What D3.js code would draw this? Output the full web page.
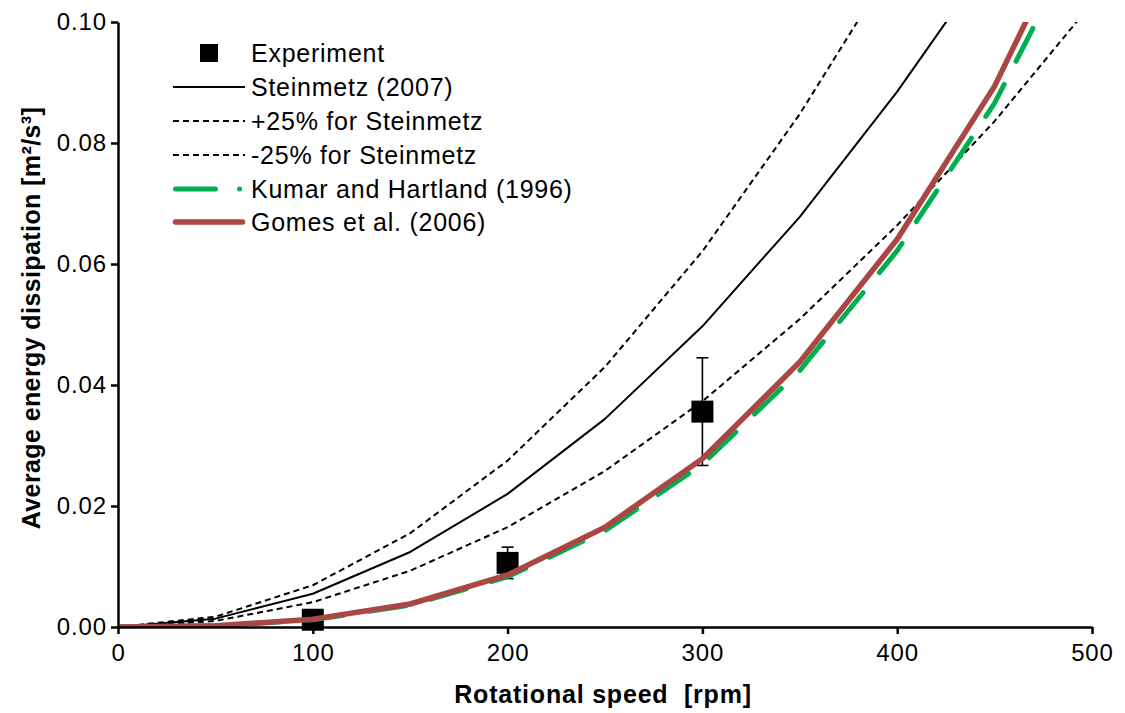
<!DOCTYPE html>
<html>
<head>
<meta charset="utf-8">
<script src="https://cdn.jsdelivr.net/npm/d3@7"></script>
<style>
  html, body { margin: 0; padding: 0; background: #fff; }
  svg { display: block; font-family: "Liberation Sans", Arial, sans-serif; }
</style>
</head>
<body>
<svg id="chart" width="1125" height="713"></svg>
<script>
// Rotational speed grid (rpm) for the correlation curves
const speeds = [0, 50, 100, 150, 200, 250, 300, 350, 400, 450, 500];

// Average energy dissipation [m²/s³] for each correlation
const steinmetz   = [0, 0.00138, 0.0055, 0.0124, 0.0220, 0.0344, 0.0497, 0.0678, 0.0885, 0.1114, 0.1375];
const steinPlus25 = [0, 0.0017, 0.0069, 0.0155, 0.0275, 0.0430, 0.0621, 0.0848, 0.1106, 0.1393, 0.1719];
const steinMinus25= [0, 0.0010, 0.0041, 0.0093, 0.0165, 0.0258, 0.0373, 0.0509, 0.0664, 0.0836, 0.1031];
const kumar       = [0, 0.0002, 0.0012, 0.0036, 0.0083, 0.0159, 0.0269, 0.0424, 0.0622, 0.0866, 0.1180];
const gomes       = [0, 0.0002, 0.0013, 0.0038, 0.0086, 0.0165, 0.0278, 0.0438, 0.0641, 0.0894, 0.1225];

// Measured points with error bars
const expSpeeds = [100, 200, 300];
const expValues = [0.0012, 0.0106, 0.0356];
const expErrors = [0.0004, 0.0026, 0.0089];

// Axis ticks
const xTicks = [0, 100, 200, 300, 400, 500];
const yTicks = [0, 0.02, 0.04, 0.06, 0.08, 0.10];

const legendLabels = [
  "Experiment",
  "Steinmetz (2007)",
  "+25% for Steinmetz",
  "-25% for Steinmetz",
  "Kumar and Hartland (1996)",
  "Gomes et al. (2006)"
];

const svg = d3.select("#chart");
const plot = { left: 118, right: 1092, top: 22, bottom: 627 };

const x = d3.scaleLinear().domain([0, 500]).range([plot.left, plot.right]);
const y = d3.scaleLinear().domain([0, 0.10]).range([plot.bottom, plot.top]);

svg.append("defs").append("clipPath").attr("id", "plotClip")
  .append("rect")
  .attr("x", plot.left).attr("y", plot.top)
  .attr("width", plot.right - plot.left)
  .attr("height", plot.bottom - plot.top);

const line = d3.line().x(d => x(d[0])).y(d => y(d[1]));
const pairs = vals => speeds.map((s, i) => [s, vals[i]]);

const styles = {
  stein:  { stroke: "#000", width: 2, dash: null, cap: "butt" },
  dashed: { stroke: "#000", width: 2, dash: "6,4", cap: "butt" },
  kumar:  { stroke: "#00B050", width: 5, dash: "37,26", cap: "round" },
  gomes:  { stroke: "#AA4643", width: 5.5, dash: null, cap: "round" }
};

const curves = svg.append("g").attr("clip-path", "url(#plotClip)");

function drawCurve(g, vals, st) {
  g.append("path")
    .datum(pairs(vals))
    .attr("d", line)
    .attr("fill", "none")
    .attr("stroke", st.stroke)
    .attr("stroke-width", st.width)
    .attr("stroke-linecap", st.cap)
    .attr("stroke-linejoin", "round")
    .attr("stroke-dasharray", st.dash);
}

drawCurve(curves, steinPlus25, styles.dashed);
drawCurve(curves, steinmetz, styles.stein);
drawCurve(curves, steinMinus25, styles.dashed);

// Experiment: error bars + square markers
const expG = svg.append("g");
expSpeeds.forEach((s, i) => {
  const cx = x(s), v = expValues[i], e = expErrors[i];
  expG.append("line")
    .attr("x1", cx).attr("x2", cx)
    .attr("y1", y(v + e)).attr("y2", y(v - e))
    .attr("stroke", "#000").attr("stroke-width", 1.6);
  [v + e, v - e].forEach(yy => {
    expG.append("line")
      .attr("x1", cx - 6).attr("x2", cx + 6)
      .attr("y1", y(yy)).attr("y2", y(yy))
      .attr("stroke", "#000").attr("stroke-width", 1.6);
  });
  expG.append("rect")
    .attr("x", cx - 11).attr("y", y(v) - 11)
    .attr("width", 22).attr("height", 22)
    .attr("fill", "#000");
});

const curves2 = svg.append("g").attr("clip-path", "url(#plotClip)");
drawCurve(curves2, kumar, styles.kumar);
drawCurve(curves2, gomes, styles.gomes);

// Axes
const xAxis = d3.axisBottom(x).tickValues(xTicks).tickSize(7).tickSizeOuter(0).tickPadding(10)
  .tickFormat(d3.format("d"));
const yAxis = d3.axisLeft(y).tickValues(yTicks).tickSize(7).tickSizeOuter(0).tickPadding(4)
  .tickFormat(d3.format(".2f"));

const gx = svg.append("g").attr("transform", `translate(0,${plot.bottom})`).call(xAxis);
const gy = svg.append("g").attr("transform", `translate(${plot.left},0)`).call(yAxis);

[gx, gy].forEach(g => {
  g.select(".domain").attr("stroke", "#000").attr("stroke-width", 2.5);
  g.selectAll(".tick line").attr("stroke", "#000").attr("stroke-width", 2.5);
  g.selectAll(".tick text")
    .attr("fill", "#000")
    .style("font-family", "'Liberation Sans', Arial, sans-serif")
    .style("font-size", "24px")
    .style("letter-spacing", "0.9px");
});
gx.selectAll(".tick text").attr("dy", "0.71em");

// Axis titles
svg.append("text")
  .attr("x", 603).attr("y", 703)
  .attr("text-anchor", "middle")
  .style("font-size", "25px").style("font-weight", "bold")
  .style("white-space", "pre")
  .style("letter-spacing", "0.8px")
  .text("Rotational speed  [rpm]");

svg.append("text")
  .attr("transform", "translate(40,318) rotate(-90)")
  .attr("text-anchor", "middle")
  .style("font-size", "25px").style("font-weight", "bold")
  .style("letter-spacing", "0.4px")
  .text("Average energy dissipation [m²/s³]");

// Legend
const legend = svg.append("g");
const rowY = [53, 87, 121, 155, 189, 222];
const lx0 = 173, lx1 = 245, tx = 251;

legend.append("rect").attr("x", 200).attr("y", rowY[0] - 9).attr("width", 18).attr("height", 18).attr("fill", "#000");

const legendStyles = [null, styles.stein, styles.dashed, styles.dashed,
  { stroke: "#00B050", width: 5, dash: "40,24,0.1,30", cap: "round" }, styles.gomes];

legendStyles.forEach((st, i) => {
  if (!st) return;
  legend.append("line")
    .attr("x1", lx0 + (st.cap === "round" ? 2.5 : 0)).attr("x2", lx1 - (st.cap === "round" ? 2.5 : 0))
    .attr("y1", rowY[i]).attr("y2", rowY[i])
    .attr("stroke", st.stroke).attr("stroke-width", st.width)
    .attr("stroke-linecap", st.cap)
    .attr("stroke-dasharray", st.dash);
});

legendLabels.forEach((t, i) => {
  legend.append("text")
    .attr("x", tx).attr("y", rowY[i] + 9)
    .style("font-size", "25px")
    .style("letter-spacing", "0.75px")
    .text(t);
});
</script>
</body>
</html>
